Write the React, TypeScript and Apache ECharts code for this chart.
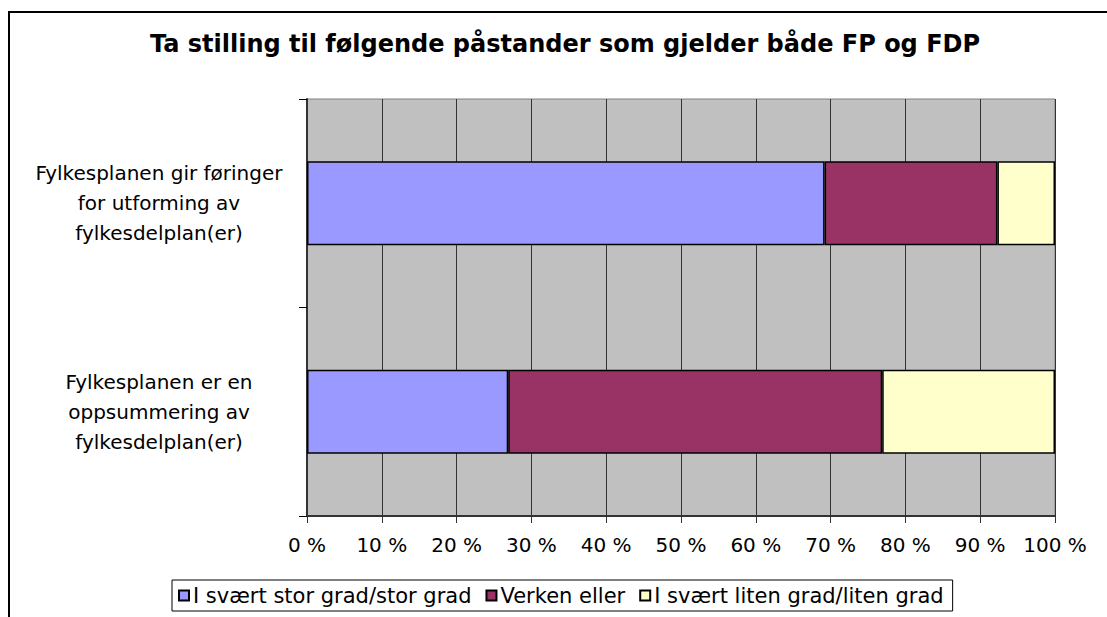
import React, { useEffect, useRef } from "react";
import * as echarts from "echarts";

const categories = [
  "Fylkesplanen gir føringer\nfor utforming av\nfylkesdelplan(er)",
  "Fylkesplanen er en\noppsummering av\nfylkesdelplan(er)",
];
const seriesNames = [
  "I svært stor grad/stor grad",
  "Verken eller",
  "I svært liten grad/liten grad",
];
const stor = [69.2, 26.9];
const verken = [23.1, 50.0];
const liten = [7.7, 23.1];
const colors = ["#9999FF", "#993366", "#FFFFCC"];
const xTicks = [0, 10, 20, 30, 40, 50, 60, 70, 80, 90, 100];
const title = "Ta stilling til følgende påstander som gjelder både FP og FDP";

const FONT = "'DejaVu Sans', 'Liberation Sans', Arial, sans-serif";

export default function App() {
  const ref = useRef<HTMLDivElement>(null);
  useEffect(() => {
    if (!ref.current) return;
    const chart = echarts.init(ref.current, undefined, { renderer: "svg" });
    const values = [stor, verken, liten];
    chart.setOption({
      animation: false,
      backgroundColor: "#FFFFFF",
      textStyle: { fontFamily: FONT },
      title: {
        text: title,
        left: 565,
        textAlign: "center",
        top: 32,
        padding: 0,
        textStyle: { fontFamily: FONT, fontSize: 24, fontWeight: "bold", color: "#000" },
      },
      graphic: [
        {
          type: "rect",
          shape: { x: 9, y: 12, width: 1200, height: 700 },
          style: { fill: "none", stroke: "#000", lineWidth: 2 },
          silent: true,
        },
      ],
      legend: {
        data: seriesNames,
        left: 172,
        top: 580,
        padding: [5, 9, 5, 6],
        borderColor: "#000",
        borderWidth: 1,
        itemWidth: 10,
        itemHeight: 10,
        itemGap: 14,
        icon: "rect",
        textStyle: { fontFamily: FONT, fontSize: 21, color: "#000", padding: [0, 0, 0, -1] },
      },
      grid: {
        left: 307,
        top: 99,
        width: 748,
        height: 417,
        show: true,
        backgroundColor: "#C0C0C0",
        borderColor: "#808080",
        borderWidth: 1,
        containLabel: false,
      },
      xAxis: {
        type: "value",
        min: xTicks[0],
        max: xTicks[xTicks.length - 1],
        interval: 10,
        axisLine: { show: true, lineStyle: { color: "#333", width: 2 } },
        axisTick: { show: true, length: 7, lineStyle: { color: "#333", width: 1 } },
        axisLabel: {
          formatter: "{value} %",
          margin: 19,
          fontFamily: FONT,
          fontSize: 20,
          color: "#000",
        },
        splitLine: { show: true, lineStyle: { color: "#333", width: 1 } },
      },
      yAxis: {
        type: "category",
        inverse: true,
        data: categories,
        axisLine: { show: true, lineStyle: { color: "#333", width: 2 } },
        axisTick: { show: true, length: 8, lineStyle: { color: "#000", width: 1 } },
        axisLabel: {
          align: "center",
          margin: 148,
          fontFamily: FONT,
          fontSize: 20,
          lineHeight: 30,
          color: "#000",
        },
      },
      series: seriesNames.map((name, i) => ({
        name,
        type: "bar",
        stack: "total",
        data: values[i],
        barWidth: 84,
        itemStyle: { color: colors[i], borderColor: "#000", borderWidth: 1.5 },
      })),
    });
    return () => chart.dispose();
  }, []);
  return (
    <div
      ref={ref}
      style={{ position: "absolute", left: 0, top: 0, width: 1107, height: 617 }}
    />
  );
}
